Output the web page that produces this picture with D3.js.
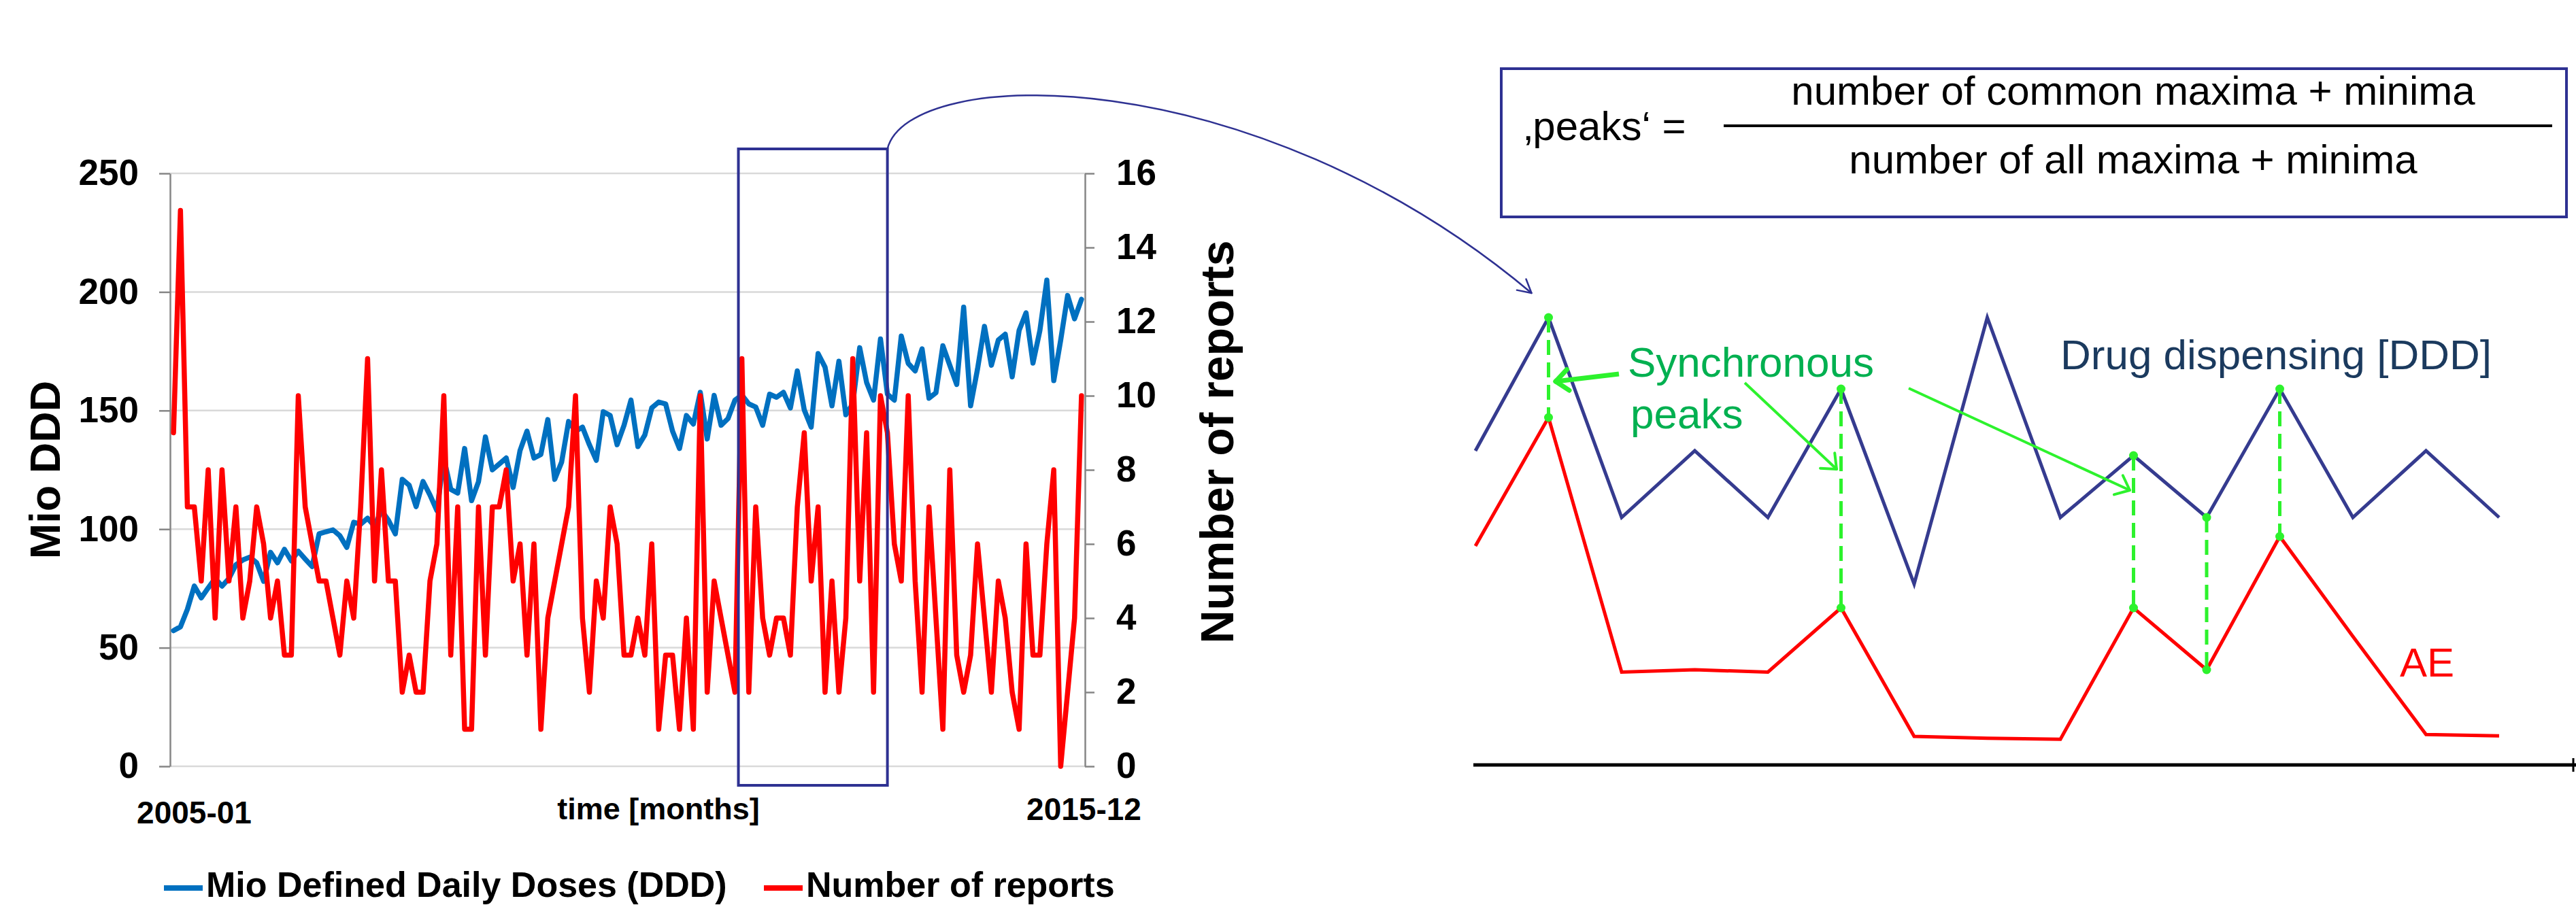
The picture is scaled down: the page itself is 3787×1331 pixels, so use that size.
<!DOCTYPE html>
<html>
<head>
<meta charset="utf-8">
<script src="https://cdn.jsdelivr.net/npm/d3@7"></script>
<style>
  html, body { margin: 0; padding: 0; background: #fff; }
  svg { display: block; }
  text { font-family: "Liberation Sans", Arial, sans-serif; }
</style>
</head>
<body>
<svg id="chart" width="3787" height="1331"></svg>
<script>
/* ── Data ─────────────────────────────────────────── */
const months = d3.timeMonths(new Date(2005, 0, 1), new Date(2016, 0, 1)); // 2005-01 .. 2015-12

const dddValues = [
    57.2, 58.8, 66.2, 76, 71, 75.2, 79.2, 76, 79.2, 85, 87, 88.2,
    85.8, 78, 90.2, 85.8, 91.5, 86.6, 90.7, 87.4, 84.2, 98, 98.9, 99.7,
    97.2, 92.3, 102.9, 102.1, 104.6, 101.3, 107.8, 103.8, 98, 121, 118.5, 109.5,
    120.1, 114.4, 107.8, 130, 116.8, 115.2, 134, 112, 120, 138.9, 125, 127.5,
    130, 117.6, 133.2, 141.3, 130, 131.5, 146.2, 121, 128.3, 145.4, 141.3, 143,
    135.6, 129, 149.5, 147.9, 135.6, 143.8, 154.4, 134.8, 139.7, 151.1, 153.6, 152.8,
    141.3, 134, 147.9, 144.3, 157.7, 138, 156.4, 143.8, 146.6, 154.4, 156.5, 152.8,
    151.5, 143.8, 156.9, 155.6, 157.7, 151.1, 166.7, 150.3, 143, 174, 168.3, 152,
    170.8, 148.2, 152.8, 176.5, 161.8, 154.4, 180.2, 156.9, 154.4, 181.4, 169.9, 166.7,
    176, 155.2, 157.5, 177.3, 169.1, 161, 193.6, 152, 167.5, 185.5, 169.1, 179.7,
    182.2, 164.2, 183.8, 191.2, 170, 183.8, 205, 162.6, 179.7, 198.5, 188.7, 196.9
];

const reportValues = [
    9, 15, 7, 7, 5, 8, 4, 8, 5, 7, 4, 5,
    7, 6, 4, 5, 3, 3, 10, 7, 6, 5, 5, 4,
    3, 5, 4, 7, 11, 5, 8, 5, 5, 2, 3, 2,
    2, 5, 6, 10, 3, 7, 1, 1, 7, 3, 7, 7,
    8, 5, 6, 3, 6, 1, 4, 5, 6, 7, 10, 4,
    2, 5, 4, 7, 6, 3, 3, 4, 3, 6, 1, 3,
    3, 1, 4, 1, 10, 2, 5, 4, 3, 2, 11, 2,
    7, 4, 3, 4, 4, 3, 7, 9, 5, 7, 2, 5,
    2, 4, 11, 5, 9, 2, 10, 9, 6, 5, 10, 5,
    2, 7, 4, 1, 8, 3, 2, 3, 6, 4, 2, 5,
    4, 2, 1, 6, 3, 3, 6, 8, 0, 2, 4, 10
];

const dddTicks    = [0, 50, 100, 150, 200, 250];
const reportTicks = [0, 2, 4, 6, 8, 10, 12, 14, 16];
const xTickLabels = ["2005-01", "2015-12"];
const legendLabels = ["Mio Defined Daily Doses (DDD)", "Number of reports"];
const zoomMonths  = [82, 103];   // highlighted window (month indices)

/* schematic on the right */
const sketchSteps = d3.range(15);
const sketchDrug  = [66, 94, 52, 66, 52, 79, 38, 94, 52, 65, 52, 79, 52, 66, 52];
const sketchAE    = [46, 73, 19.5, 20, 19.5, 33, 6, 5.6, 5.4, 33, 20, 48, 27, 6.4, 6.1];
const syncSteps   = [1, 5, 9, 10, 11];

/* ── Setup ────────────────────────────────────────── */
const W = 3787, H = 1331;
const svg = d3.select("#chart");
svg.append("rect").attr("width", W).attr("height", H).attr("fill", "#fff");

const BLUE = "#0070c0", RED = "#ff0000", NAVY = "#2e3192", GREEN = "#2df22d";
const plot = { left: 250, right: 1595, top: 255, bottom: 1127 };

const x     = d3.scalePoint().domain(months).range([plot.left, plot.right]).padding(0.5);
const yDdd  = d3.scaleLinear().domain([0, 250]).range([plot.bottom, plot.top]);
const yRep  = d3.scaleLinear().domain([0, 16]).range([plot.bottom, plot.top]);

/* ── Gridlines ────────────────────────────────────── */
svg.append("g").selectAll("line")
    .data(dddTicks).join("line")
    .attr("x1", plot.left).attr("x2", plot.right)
    .attr("y1", d => yDdd(d)).attr("y2", d => yDdd(d))
    .attr("stroke", "#d9d9d9").attr("stroke-width", 2.5);

/* ── Axes ─────────────────────────────────────────── */
function styleAxis(g) {
    g.select(".domain").attr("stroke", "#868686").attr("stroke-width", 2.5);
    g.selectAll(".tick line").attr("stroke", "#868686").attr("stroke-width", 2.5);
    g.selectAll(".tick text")
        .attr("font-family", "Liberation Sans, Arial, sans-serif")
        .attr("font-size", 53).attr("font-weight", "bold").attr("fill", "#000");
}

svg.append("g")
    .attr("transform", `translate(${plot.left},0)`)
    .call(d3.axisLeft(yDdd).tickValues(dddTicks).tickSize(16).tickSizeOuter(0).tickPadding(30))
    .call(styleAxis);

svg.append("g")
    .attr("transform", `translate(${plot.right},0)`)
    .call(d3.axisRight(yRep).tickValues(reportTicks).tickSize(14).tickSizeOuter(0).tickPadding(32))
    .call(styleAxis);

/* ── Series ───────────────────────────────────────── */
const dddLine = d3.line().x((d, i) => x(months[i])).y(d => yDdd(d));
const repLine = d3.line().x((d, i) => x(months[i])).y(d => yRep(d));

svg.append("path").datum(dddValues)
    .attr("d", dddLine).attr("fill", "none")
    .attr("stroke", BLUE).attr("stroke-width", 7.5)
    .attr("stroke-linejoin", "round").attr("stroke-linecap", "round");

svg.append("path").datum(reportValues)
    .attr("d", repLine).attr("fill", "none")
    .attr("stroke", RED).attr("stroke-width", 7.5)
    .attr("stroke-linejoin", "round").attr("stroke-linecap", "round");

/* ── Axis texts ───────────────────────────────────── */
const first = x(months[0]), last = x(months[months.length - 1]);

svg.append("text").text(xTickLabels[0])
    .attr("x", first - 54).attr("y", 1211)
    .attr("font-size", 46).attr("font-weight", "bold");
svg.append("text").text(xTickLabels[1])
    .attr("x", last + 88).attr("y", 1206).attr("text-anchor", "end")
    .attr("font-size", 46).attr("font-weight", "bold");
svg.append("text").text("time [months]")
    .attr("x", 968).attr("y", 1205).attr("text-anchor", "middle")
    .attr("font-size", 45).attr("font-weight", "bold");

svg.append("text").text("Mio DDD")
    .attr("transform", `translate(88,${(plot.top + plot.bottom) / 2}) rotate(-90)`)
    .attr("text-anchor", "middle").attr("font-size", 63).attr("font-weight", "bold");
svg.append("text").text("Number of reports")
    .attr("transform", "translate(1813,650) rotate(-90)")
    .attr("text-anchor", "middle").attr("font-size", 68).attr("font-weight", "bold");

/* ── Legend ───────────────────────────────────────── */
const legend = svg.append("g").attr("transform", "translate(0,1306)");
[[241, BLUE], [1123, RED]].forEach(([lx, color], i) => {
    legend.append("line")
        .attr("x1", lx).attr("x2", lx + 57).attr("y1", 0).attr("y2", 0)
        .attr("stroke", color).attr("stroke-width", 8);
    legend.append("text").text(legendLabels[i])
        .attr("x", lx + 62).attr("y", 13)
        .attr("font-size", 52).attr("font-weight", "bold");
});

/* ── Highlight window + connector ─────────────────── */
const zx0 = x(months[zoomMonths[0]]) - x.step() / 2;
const zx1 = x(months[zoomMonths[1]]);
svg.append("rect")
    .attr("x", zx0).attr("y", 219)
    .attr("width", zx1 - zx0).attr("height", 1155 - 219)
    .attr("fill", "none").attr("stroke", NAVY).attr("stroke-width", 4);

/* schematic scales (needed for connector target) */
const xs = d3.scalePoint().domain(sketchSteps).range([2169, 3674]);
const ys = d3.scaleLinear().domain([0, 100]).range([1125, 425]);

function arrowHead(g, fromX, fromY, tipX, tipY, len, spread, color, width) {
    const a = Math.atan2(tipY - fromY, tipX - fromX);
    [a + Math.PI - spread, a + Math.PI + spread].forEach(b => {
        g.append("line")
            .attr("x1", tipX).attr("y1", tipY)
            .attr("x2", tipX + Math.cos(b) * len).attr("y2", tipY + Math.sin(b) * len)
            .attr("stroke", color).attr("stroke-width", width).attr("stroke-linecap", "round");
    });
}

const tipX = xs(1) - 25, tipY = ys(sketchDrug[1]) - 36;
const c1 = [zx1 + 31, 95], c2 = [1840, 85];
svg.append("path")
    .attr("d", `M${zx1},219 C${c1[0]},${c1[1]} ${c2[0]},${c2[1]} ${tipX},${tipY}`)
    .attr("fill", "none").attr("stroke", NAVY).attr("stroke-width", 2.5);
arrowHead(svg, c2[0], c2[1], tipX, tipY, 22, 0.5, NAVY, 2.5);

/* ── Formula box ──────────────────────────────────── */
svg.append("rect")
    .attr("x", 2207).attr("y", 101).attr("width", 1566).attr("height", 218)
    .attr("fill", "#fff").attr("stroke", NAVY).attr("stroke-width", 4);
svg.append("text").text("\u201Apeaks\u2018 =")
    .attr("x", 2240).attr("y", 206).attr("font-size", 60);
svg.append("line")
    .attr("x1", 2534).attr("x2", 3752).attr("y1", 185).attr("y2", 185)
    .attr("stroke", "#000").attr("stroke-width", 4);
svg.append("text").text("number of common maxima + minima")
    .attr("x", 3136).attr("y", 154).attr("text-anchor", "middle").attr("font-size", 60);
svg.append("text").text("number of all maxima + minima")
    .attr("x", 3136).attr("y", 255).attr("text-anchor", "middle").attr("font-size", 60);

/* ── Schematic ────────────────────────────────────── */
const sketch = svg.append("g");

sketch.append("line")
    .attr("x1", 2166).attr("x2", W).attr("y1", ys(0)).attr("y2", ys(0))
    .attr("stroke", "#000").attr("stroke-width", 5);
sketch.append("line")
    .attr("x1", 3783).attr("x2", 3783).attr("y1", ys(0) - 10).attr("y2", ys(0) + 10)
    .attr("stroke", "#000").attr("stroke-width", 3);

const sketchLine = d3.line().x((d, i) => xs(i)).y(d => ys(d));
sketch.append("path").datum(sketchDrug)
    .attr("d", sketchLine).attr("fill", "none")
    .attr("stroke", "#353b8f").attr("stroke-width", 5);
sketch.append("path").datum(sketchAE)
    .attr("d", sketchLine).attr("fill", "none")
    .attr("stroke", RED).attr("stroke-width", 5);

sketch.append("g").selectAll("line")
    .data(syncSteps).join("line")
    .attr("x1", d => xs(d)).attr("x2", d => xs(d))
    .attr("y1", d => ys(sketchDrug[d])).attr("y2", d => ys(sketchAE[d]))
    .attr("stroke", GREEN).attr("stroke-width", 5)
    .attr("stroke-dasharray", "22 11");

sketch.append("g").selectAll("circle")
    .data(syncSteps.flatMap(d => [[d, sketchDrug[d]], [d, sketchAE[d]]])).join("circle")
    .attr("cx", d => xs(d[0])).attr("cy", d => ys(d[1]))
    .attr("r", 6.5).attr("fill", GREEN);

/* labels */
sketch.append("text").text("Synchronous")
    .attr("x", 2393).attr("y", 554).attr("font-size", 62).attr("fill", "#00b050");
sketch.append("text").text("peaks")
    .attr("x", 2397).attr("y", 630).attr("font-size", 62).attr("fill", "#00b050");
sketch.append("text").text("Drug dispensing [DDD]")
    .attr("x", 3029).attr("y", 543).attr("font-size", 62).attr("fill", "#1b3a5e");
sketch.append("text").text("AE")
    .attr("x", 3528).attr("y", 995).attr("font-size", 60).attr("fill", RED);

/* green arrows from the label */
const greenArrows = [
    { from: [2380, 550], to: [2287, 561], w: 7 },
    { from: [2565, 563], to: [2700, 690], w: 4 },
    { from: [2806, 571], to: [3131, 721], w: 4 }
];
greenArrows.forEach(a => {
    sketch.append("line")
        .attr("x1", a.from[0]).attr("y1", a.from[1])
        .attr("x2", a.to[0]).attr("y2", a.to[1])
        .attr("stroke", GREEN).attr("stroke-width", a.w);
    arrowHead(sketch, a.from[0], a.from[1], a.to[0], a.to[1], 24, 0.7, GREEN, a.w);
});
</script>
</body>
</html>
